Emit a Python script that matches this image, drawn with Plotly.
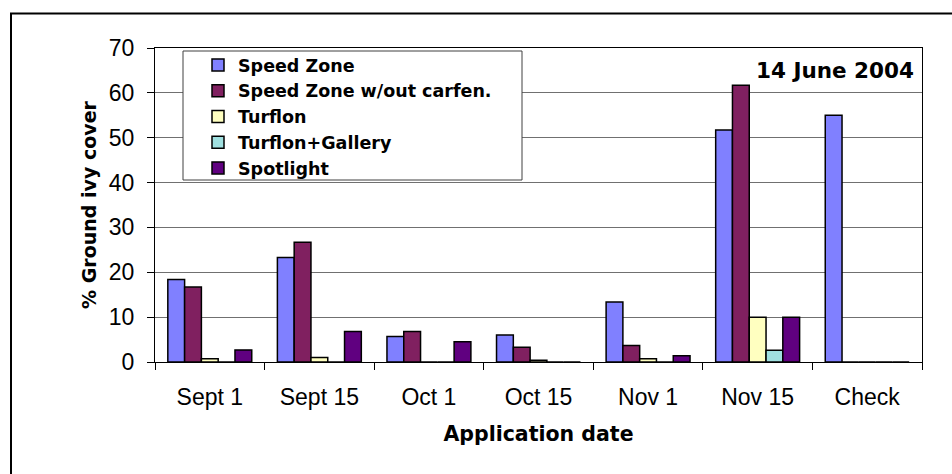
import plotly.graph_objects as go

categories = ["Sept 1", "Sept 15", "Oct 1", "Oct 15", "Nov 1", "Nov 15", "Check"]
speed_zone = [18.4, 23.3, 5.7, 6.0, 13.4, 51.7, 55.0]
speed_zone_wo = [16.7, 26.7, 6.8, 3.3, 3.7, 61.7, 0]
turflon = [0.7, 1.0, 0, 0.4, 0.7, 10.0, 0]
turflon_gallery = [0, 0, 0, 0, 0, 2.6, 0]
spotlight = [2.7, 6.8, 4.5, 0, 1.4, 10.0, 0]

series = [
    ("Speed Zone", speed_zone, "#8080FF"),
    ("Speed Zone w/out carfen.", speed_zone_wo, "#802060"),
    ("Turflon", turflon, "#FFFFC0"),
    ("Turflon+Gallery", turflon_gallery, "#A0E0E0"),
    ("Spotlight", spotlight, "#600080"),
]

TICK_FONT = "Liberation Sans, Arial, sans-serif"
BOLD_FONT = "DejaVu Sans, Verdana, sans-serif"

fig = go.Figure()
for name, vals, color in series:
    fig.add_trace(go.Bar(
        x=categories, y=vals, name=name,
        marker=dict(color=color, line=dict(color="black", width=1.5)),
    ))

W, H = 952, 474
L, R, T, B = 155, 30, 48, 112
pw, ph = W - L - R, H - T - B

def px(x):
    return (x - L) / pw

def py(y):
    return (H - B - y) / ph

fig.update_layout(
    width=W, height=H,
    margin=dict(l=L, r=R, t=T, b=B),
    paper_bgcolor="white", plot_bgcolor="white",
    barmode="group", bargap=0.234, bargroupgap=0,
    font=dict(family=TICK_FONT, size=23, color="black"),
    legend=dict(
        x=px(198), y=py(47), xanchor="left", yanchor="top",
        bgcolor="rgba(0,0,0,0)", borderwidth=0,
        font=dict(family=BOLD_FONT, size=17.5, color="black", weight="bold"),
        tracegroupgap=0,
    ),
    xaxis=dict(
        type="category", tickson="boundaries", ticks="outside", ticklen=7,
        tickcolor="black", showline=True, linecolor="black", linewidth=1,
        mirror=True, showgrid=False, ticklabelstandoff=14,
        tickfont=dict(family=TICK_FONT, size=23),
        title=dict(text="Application date", standoff=18,
                   font=dict(family=BOLD_FONT, size=20.5, weight="bold")),
    ),
    yaxis=dict(
        range=[0, 70], dtick=10, ticks="outside", ticklen=7, tickcolor="black",
        showline=True, linecolor="black", linewidth=1, mirror=True,
        showgrid=True, gridcolor="#707070", gridwidth=1, zeroline=False,
        ticklabelstandoff=8,
        tickfont=dict(family=TICK_FONT, size=23),
        title=dict(text="% Ground ivy cover", standoff=7,
                   font=dict(family=BOLD_FONT, size=19, weight="bold")),
    ),
    shapes=[
        dict(type="rect", xref="paper", yref="paper",
             x0=px(11), x1=1.3, y0=-0.6, y1=py(13.5),
             line=dict(color="black", width=2), fillcolor="rgba(0,0,0,0)", layer="below"),
        dict(type="rect", xref="paper", yref="paper",
             x0=px(183), x1=px(522), y0=py(180), y1=py(51),
             line=dict(color="#404040", width=1), fillcolor="white", layer="above"),
    ],
    annotations=[
        dict(text="14 June 2004", xref="paper", yref="paper",
             x=px(916), y=py(70.7), xanchor="right", yanchor="middle",
             showarrow=False,
             font=dict(family=BOLD_FONT, size=21.5, weight="bold", color="black")),
    ],
)

fig.write_html("out.html", config={"displayModeBar": False},
               post_script="document.body.style.margin='0';")
